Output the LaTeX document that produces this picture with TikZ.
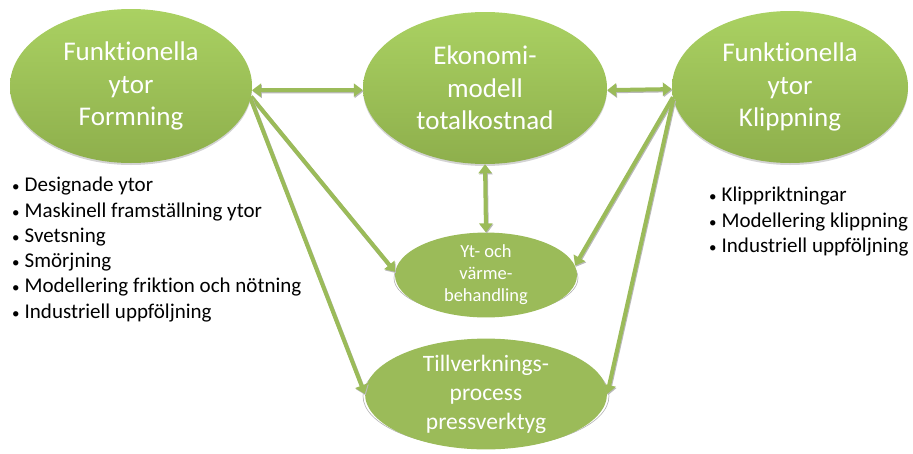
\documentclass[tikz,border=0pt]{standalone}
\usepackage{fontspec}
\setmainfont{Carlito}[Ligatures=CommonOff]
\usetikzlibrary{shapes.geometric,arrows.meta,shadows}
\definecolor{og}{HTML}{9BBB59}
\definecolor{ogl}{HTML}{AAD162}
\definecolor{ogd}{HTML}{8EAF4C}
\newcommand{\lbul}{{\fontsize{15}{15}\selectfont •}\hspace{5pt}}
\begin{document}
\begin{tikzpicture}[x=1pt,y=-1pt,
  bigell/.style={ellipse, inner sep=0pt, minimum width=242pt, minimum height=154pt,
    top color=ogl, bottom color=ogd, text=white, align=center,
    font=\fontsize{27}{32.5}\selectfont,
    drop shadow={shadow xshift=0pt, shadow yshift=-2pt, opacity=0.35}},
  smallell/.style={ellipse, inner sep=0pt, fill=og, text=white, align=center},
  rim/.style={fill=white, draw=gray!60, line width=0.6pt},
  link/.style={draw=og, line width=4pt,
    preaction={draw=gray!55, line width=4pt, transform canvas={shift={(0.8pt,-1.2pt)}}}},
  tip/.tip={Triangle[width=13pt,length=9pt]},
  listtxt/.style={inner sep=0pt, align=left, text=black, font=\fontsize{21}{25.3}\selectfont}
]
\useasboundingbox (0,0) rectangle (913,453);

% top ellipses
\node[bigell] (fl) at (131,86) {Funktionella\\ytor\\Formning};
\node[bigell, minimum width=244pt, minimum height=152pt] (em) at (485,88) {Ekonomi-\\modell\\totalkostnad};
\node[bigell, minimum width=236pt, minimum height=152pt] (fk) at (790,87) {Funktionella\\ytor\\Klippning};

% lower ellipses with rim
\path[rim] (486,278) ellipse (92pt and 37pt);
\node[smallell, minimum width=182pt, minimum height=71pt, font=\fontsize{18.5}{22}\selectfont] (yt) at (486,275) {Yt- och\\värme-\\behandling};
\path[rim] (486,396) ellipse (123pt and 52pt);
\node[smallell, minimum width=242pt, minimum height=100pt, font=\fontsize{23.5}{29}\selectfont] (tv) at (486,394) {Tillverknings-\\process\\pressverktyg};

% connectors
\draw[link, {tip}-{tip}] (fl.-2) -- (em.181);
\draw[link, {tip}-{tip}] (em.-1) -- (fk.181);
\draw[link, {tip}-{tip}] (em.south) -- (yt.north);
\draw[link, -{tip}] (fl.-5) -- (yt.178);
\draw[link, -{tip}] (fl.-6) -- (tv.180);
\draw[link, -{tip}] (fk.185) -- (yt.6);
\draw[link, -{tip}] (fk.186) -- (tv.0);

% lists
\node[listtxt, anchor=north west] (ll) at (12,177) {\lbul Designade ytor\\\lbul Maskinell framställning ytor\\\lbul Svetsning\\\lbul Smörjning\\\lbul Modellering friktion och nötning\\\lbul Industriell uppföljning};
\node[listtxt, anchor=north west] (rl) at (709,187) {\lbul Klippriktningar\\\lbul Modellering klippning\\\lbul Industriell uppföljning};
\end{tikzpicture}
\end{document}
